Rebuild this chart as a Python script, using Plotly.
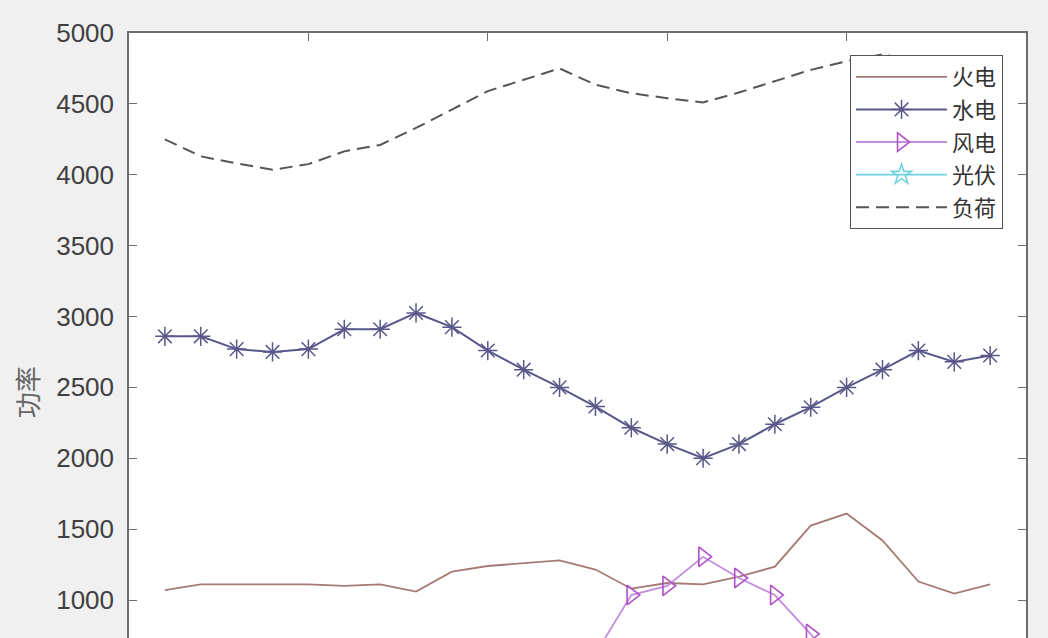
import plotly.graph_objects as go

hours = list(range(1, 25))

thermal = [1070, 1110, 1110, 1110, 1110, 1100, 1110, 1060, 1200, 1240, 1260, 1280,
           1215, 1080, 1120, 1110, 1165, 1235, 1525, 1610, 1420, 1130, 1045, 1110]
hydro = [2860, 2860, 2770, 2750, 2770, 2910, 2910, 3025, 2925, 2760, 2625, 2500,
         2365, 2215, 2100, 2000, 2100, 2240, 2360, 2500, 2625, 2760, 2680, 2725]
wind = [250, 120, 150, 130, 150, 110, 140, 170, 220, 380, 520, 640,
        620, 1035, 1100, 1305, 1155, 1035, 760, 450, 380, 300, 280, 260]
solar = [0, 0, 0, 0, 0, 10, 60, 120, 200, 300, 380, 440,
         450, 260, 220, 100, 160, 150, 90, 20, 0, 0, 0, 0]
load = [4250, 4130, 4080, 4035, 4075, 4165, 4210, 4330, 4460, 4590, 4670, 4750,
        4635, 4575, 4540, 4510, 4580, 4660, 4740, 4800, 4850, 4800, 4650, 4450]

names = ["火电", "水电", "风电", "光伏", "负荷"]
y_ticks = [1000, 1500, 2000, 2500, 3000, 3500, 4000, 4500, 5000]
x_ticks = [5, 10, 15, 20]

fig = go.Figure()
fig.add_trace(go.Scatter(x=hours, y=thermal, name=names[0], mode="lines",
                         legendgroup="a",
                         line=dict(color="#a57a74", width=1.8)))
fig.add_trace(go.Scatter(x=hours, y=hydro, name=names[1], mode="lines+markers",
                         legendgroup="b",
                         line=dict(color="#58588a", width=2),
                         marker=dict(symbol="asterisk-open", size=16,
                                     line=dict(color="#1a1a80", width=1.5))))
fig.add_trace(go.Scatter(x=hours, y=wind, name=names[2], mode="lines+markers",
                         legendgroup="c",
                         line=dict(color="#c48ddc", width=1.8),
                         marker=dict(symbol="triangle-right-open", size=17,
                                     color="#b050c8",
                                     line=dict(color="#b050c8", width=1.6))))
fig.add_trace(go.Scatter(x=hours, y=solar, name=names[3], mode="lines+markers",
                         legendgroup="d",
                         line=dict(color="#6fd3e0", width=1.8),
                         marker=dict(symbol="star-open", size=15,
                                     color="#6fd3e0",
                                     line=dict(color="#6fd3e0", width=1.6))))
fig.add_trace(go.Scatter(x=hours, y=load, name=names[4], mode="lines",
                         legendgroup="e",
                         line=dict(color="#555555", width=2, dash="13px,7px")))

fig.update_layout(
    width=1048, height=638,
    margin=dict(l=129, r=22, t=33, b=0),
    paper_bgcolor="#f0f0f0",
    plot_bgcolor="#ffffff",
    showlegend=True,
    legend=dict(
        x=0.9744, xanchor="right", y=0.9636, yanchor="top",
        bgcolor="#ffffff", bordercolor="#555555", borderwidth=1,
        font=dict(family="Noto Sans CJK SC", size=22, color="#333333"),
        itemwidth=91, tracegroupgap=1,
    ),
    xaxis=dict(
        range=[0, 25], side="top", showline=True, linecolor="#6e6e6e", linewidth=1.5,
        ticks="inside", ticklen=8, tickcolor="#6e6e6e", tickvals=x_ticks,
        showticklabels=False, showgrid=False, zeroline=False,
    ),
    yaxis=dict(
        range=[732, 5000], showline=True, mirror="ticks", linecolor="#6e6e6e",
        linewidth=1.5, ticks="inside", ticklen=8, tickcolor="#6e6e6e",
        tickvals=y_ticks, ticktext=[str(v) for v in y_ticks],
        tickfont=dict(family="Liberation Sans, Arial", size=26, color="#404040"),
        ticklabelstandoff=8, showgrid=False, zeroline=False,
    ),
    annotations=[dict(
        text="功率", xref="paper", yref="paper", x=-0.1145, y=0.4066,
        xanchor="center", yanchor="middle", textangle=-90, showarrow=False,
        font=dict(family="Noto Sans CJK SC", size=26, color="#666666"),
    )],
)

fig.write_html(
    "out.html",
    config={"displayModeBar": False},
    post_script="document.body.style.margin='0';document.body.style.background='#f0f0f0';",
)
